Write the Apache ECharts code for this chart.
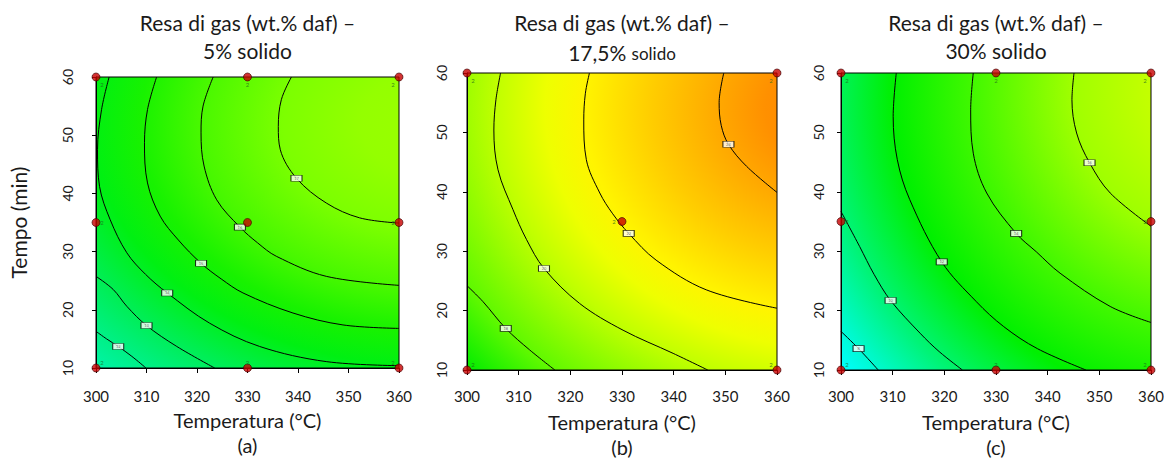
<!DOCTYPE html>
<html>
<head>
<meta charset="utf-8">
<style>html,body{margin:0;padding:0;background:#fff;}#c{width:1164px;height:459px;}</style>
<script src="https://cdn.jsdelivr.net/npm/echarts@6/dist/echarts.min.js"></script>
</head>
<body>
<div id="c"></div>
<script>
// ---------- data ----------
const tempTicks = [300, 310, 320, 330, 340, 350, 360];
const timeTicks = [10, 20, 30, 40, 50, 60];
const panelLetters = ['a', 'b', 'c'];
const solidLabels = ['5%', '17,5%', '30%'];

// design points (Temperatura °C, Tempo min) and replicate counts
const designA = [[300,60],[330,60],[360,60],[300,35],[330,35],[360,35],[300,10],[330,10],[360,10]];
const repsA   = [2,2,2,2,0,2,2,2,2];
const designB = [[300,60],[360,60],[330,35],[300,10],[360,10]];
const repsB   = [2,2,2,2,2];
const designC = [[300,60],[330,60],[360,60],[300,35],[360,35],[300,10],[330,10],[360,10]];
const repsC   = [2,2,2,2,2,2,2,2];

// contour lines
const contoursA = [
  [[300,16.3],[302.1,15.0],[304.4,13.7],[307.1,12.0],[309.9,10]],
  [[300,25.75],[303.4,23.5],[306.1,20.6],[310.0,17.3],[316,13.7],[323.5,10]],
  [[302.6,60],[301.1,54.4],[300.3,47.5],[300.7,41.2],[302.8,35.5],[306.1,29.8],[309.8,26.1],[314.1,22.9],[322.5,17.7],[332.4,13.7],[345.6,11.1],[360,10.4]],
  [[312,60],[310.2,54.4],[309.6,48.7],[310.2,41.8],[312.7,36.1],[316.3,32.0],[320.8,28.0],[324.8,25.3],[329.1,22.9],[339,19.45],[348.9,17.4],[360,16.8]],
  [[323.2,60],[321.2,55],[320.8,50.4],[321.4,44.7],[323.9,38.9],[328.5,34.2],[332,31.5],[335.7,29.2],[345.6,25.75],[360,24.2]],
  [[338.7,60],[336.7,56.1],[336.1,51.5],[336.5,47.5],[339.7,42.6],[345.6,38.35],[352.2,35.8],[360,34.9]]
];
const levelsA = [12, 13, 14, 15, 16, 17];
const labelPtsA = [[304.4,13.7],[310.0,17.3],[314.1,22.9],[320.8,28.0],[328.5,34.2],[339.7,42.6]];

const contoursB = [
  [[300,24.2],[303.1,21.5],[307.5,17.0],[312.1,13.4],[317,10]],
  [[306.5,60],[305.6,55.5],[305.2,50.4],[306,43.7],[308.9,37],[311.5,32],[314.9,27.1],[321.8,21.2],[330.2,16.7],[339.9,12.8],[346.6,10]],
  [[323.7,60],[322.9,56.5],[322.6,52.1],[323.1,45.4],[325.7,39.8],[328.2,36.3],[331.3,33],[336.6,28.5],[346.3,23.5],[360,20.4]],
  [[349.7,60],[348.8,55],[349.2,51.2],[350.6,48.0],[354.1,44.3],[360,39.9]]
];
const levelsB = [18, 20, 22, 24];
const labelPtsB = [[307.5,17.0],[314.9,27.1],[331.3,33],[350.6,48.0]];

const contoursC = [
  [[300,16.5],[303.4,13.6],[307.2,10]],
  [[300,36.7],[303.6,30.8],[306.4,26.1],[309.6,21.7],[315.3,16.2],[319,13.1],[323.5,10]],
  [[310.7,60],[310.1,52.7],[310.9,45.4],[313.3,38.7],[319.5,28.2],[326.2,21.5],[331.5,17.3],[338,13.6],[347.4,10]],
  [[325.6,60],[325.1,53.8],[325.6,46.5],[328.2,39.8],[333.9,33],[337.8,29.9],[342.4,26.3],[352.1,20.7],[360,18]],
  [[345.1,60],[344.7,55.5],[345.6,49.9],[348.1,44.9],[352.1,39.8],[360,34.2]]
];
const levelsC = [8, 10, 12, 14, 16];
const labelPtsC = [[303.4,13.6],[309.6,21.7],[319.5,28.2],[333.9,33],[348.1,44.9]];

// ---------- style ----------
const FONT = 'Lato, "Open Sans", sans-serif';
const grids = [
  {left: 96, top: 77, width: 303, height: 291},
  {left: 467, top: 73, width: 310, height: 297},
  {left: 841, top: 73, width: 310, height: 297}
];
const xLabelMargin = [20, 18, 18];
const yLabelMargin = [22, 19, 16];
// colour field (elliptical gradient centred near the maximum of each surface)
const fields = [
  {cx: 368, cy: 52, sy: 0.70, stops: [[0,'#9cff00'],[0.16,'#94ff00'],[0.32,'#7cff00'],[0.49,'#48f800'],[0.61,'#18f200'],[0.71,'#00f012'],[0.83,'#00ee55'],[0.93,'#00f088'],[1,'#00f4a8']]},
  {cx: 372, cy: 54, sy: 0.82, stops: [[0,'#ff8400'],[0.15,'#ff9000'],[0.245,'#ffa800'],[0.38,'#ffcc00'],[0.52,'#fff400'],[0.6,'#eeff00'],[0.7,'#c0ff00'],[0.88,'#5cf800'],[1,'#00ec00']]},
  {cx: 375, cy: 57, sy: 0.95, stops: [[0,'#d4ff00'],[0.16,'#c4ff00'],[0.32,'#a0ff00'],[0.53,'#40f800'],[0.69,'#00f000'],[0.84,'#00f478'],[0.95,'#00fad8'],[1,'#00ffff']]}
];

const designs = [designA, designB, designC];
const reps = [repsA, repsB, repsC];
const contours = [contoursA, contoursB, contoursC];
const levels = [levelsA, levelsB, levelsC];
const labelPts = [labelPtsA, labelPtsB, labelPtsC];

const xMin = tempTicks[0], xMax = tempTicks[tempTicks.length-1];
const yMin = timeTicks[0], yMax = timeTicks[timeTicks.length-1];

const chart = echarts.init(document.getElementById('c'), null, {renderer: 'svg'});

const xAxes = [], yAxes = [], series = [];
for (let i = 0; i < 3; i++) {
  xAxes.push({
    gridIndex: i, type: 'value', min: xMin, max: xMax, interval: 10,
    axisLine: {show: true, onZero: false, lineStyle: {color: '#000', width: 1}},
    axisTick: {show: true, length: 5, lineStyle: {color: '#000'}},
    splitLine: {show: false},
    axisLabel: {fontSize: 15, color: '#1a1a1a', fontFamily: FONT, margin: xLabelMargin[i]},
    name: '{t|Temperatura (°C)}\n{s|(' + panelLetters[i] + ')}',
    nameLocation: 'middle', nameGap: 39,
    nameTextStyle: {color: '#1a1a1a', fontFamily: FONT,
      rich: {t: {fontSize: 20, lineHeight: 25, fontFamily: FONT, color: '#1a1a1a'},
             s: {fontSize: 20, lineHeight: 25, fontFamily: FONT, color: '#1a1a1a'}}}
  });
  yAxes.push({
    gridIndex: i, type: 'value', min: yMin, max: yMax, interval: 10,
    axisLine: {show: true, onZero: false, lineStyle: {color: '#000', width: 1}},
    axisTick: {show: true, length: 4, lineStyle: {color: '#000'}},
    splitLine: {show: false},
    axisLabel: {fontSize: 14, color: '#1a1a1a', fontFamily: FONT, rotate: 90, margin: yLabelMargin[i]},
    name: i === 0 ? 'Tempo (min)' : '',
    nameLocation: 'middle', nameGap: 67,
    nameTextStyle: {fontSize: 21, color: '#1a1a1a', fontFamily: FONT}
  });

  const f = fields[i];
  series.push({
    type: 'custom', xAxisIndex: i, yAxisIndex: i, z: 0, silent: true,
    data: [[f.cx, f.cy]],
    renderItem: function (params, api) {
      const tl = api.coord([xMin, yMax]);
      const br = api.coord([xMax, yMin]);
      const c = api.coord([api.value(0), api.value(1)]);
      const sy = f.sy;
      const dx = c[0] - tl[0], dy = (br[1] - c[1]) / sy;
      const r = Math.sqrt(dx*dx + dy*dy);
      const ly0 = c[1] + (tl[1] - c[1]) / sy;
      const ly1 = c[1] + (br[1] - c[1]) / sy;
      const stops = f.stops.map(s => ({offset: s[0], color: s[1]}));
      return {type: 'group', children: [
        {type: 'rect', originX: c[0], originY: c[1], scaleY: sy,
         shape: {x: tl[0], y: ly0, width: br[0] - tl[0], height: ly1 - ly0},
         style: {fill: new echarts.graphic.RadialGradient(c[0], c[1], r, stops, true)}},
        {type: 'rect', shape: {x: tl[0], y: tl[1], width: br[0] - tl[0], height: br[1] - tl[1]},
         style: {fill: 'none', stroke: '#000', lineWidth: 1}}
      ]};
    }
  });

  contours[i].forEach(function (pts) {
    series.push({
      type: 'line', xAxisIndex: i, yAxisIndex: i, z: 2, silent: true,
      data: pts, smooth: 0.35, symbol: 'none', clip: true,
      lineStyle: {color: '#000', width: 1}
    });
  });

  series.push({
    type: 'scatter', xAxisIndex: i, yAxisIndex: i, z: 3, silent: true,
    symbol: 'rect', symbolSize: [11, 6],
    itemStyle: {color: '#ffffff', borderColor: '#000', borderWidth: 0.8},
    label: {show: true, position: 'inside', fontSize: 4, color: '#555', fontFamily: FONT,
            formatter: p => String(levels[i][p.dataIndex])},
    data: labelPts[i]
  });

  const dData = designs[i].map(function (p, k) {
    let ox = 0, oy = 0;
    if (p[0] === xMin) ox = 6; else if (p[0] === xMax) ox = -6; else ox = 0;
    if (p[1] === yMax) oy = 7; else if (p[1] === yMin) oy = -6; else oy = 0;
    if (p[0] !== xMin && p[0] !== xMax && p[1] !== yMin && p[1] !== yMax) ox = -8;
    return {value: p, label: {show: reps[i][k] > 0, offset: [ox, oy]}};
  });
  series.push({
    type: 'scatter', xAxisIndex: i, yAxisIndex: i, z: 4, silent: true, clip: false,
    symbol: 'circle', symbolSize: 8,
    itemStyle: {color: '#c80000', borderColor: '#3a0000', borderWidth: 0.8},
    label: {position: 'inside', fontSize: 6, color: '#1f6a1f', fontFamily: FONT,
            formatter: p => String(reps[i][p.dataIndex])},
    data: dData
  });
}

const centers = grids.map(g => g.left + g.width / 2);
const graphics = [];
for (let i = 0; i < 3; i++) {
  graphics.push({type: 'text', x: centers[i], y: 22,
    style: {text: 'Resa di gas (wt.% daf) –', font: '21px ' + FONT, fill: '#1a1a1a', textAlign: 'center', textVerticalAlign: 'middle'}});
  if (i === 1) {
    graphics.push({type: 'text', x: centers[i], y: 50,
      style: {text: '{a|' + solidLabels[i] + ' }{b|solido}', textAlign: 'center', textVerticalAlign: 'middle',
        rich: {a: {fontSize: 21, lineHeight: 26, verticalAlign: 'bottom', fontFamily: FONT, fill: '#1a1a1a', color: '#1a1a1a'},
               b: {fontSize: 17, lineHeight: 26, verticalAlign: 'bottom', padding: [0, 0, 1, 0], fontFamily: FONT, fill: '#1a1a1a', color: '#1a1a1a'}}}});
  } else {
    graphics.push({type: 'text', x: centers[i], y: 50,
      style: {text: solidLabels[i] + ' solido', font: '21px ' + FONT, fill: '#1a1a1a', textAlign: 'center', textVerticalAlign: 'middle'}});
  }
}

chart.setOption({
  animation: false,
  backgroundColor: '#ffffff',
  grid: grids.map(g => Object.assign({containLabel: false, outerBoundsMode: 'none'}, g)),
  xAxis: xAxes,
  yAxis: yAxes,
  series: series,
  graphic: graphics
});
</script>
</body>
</html>
